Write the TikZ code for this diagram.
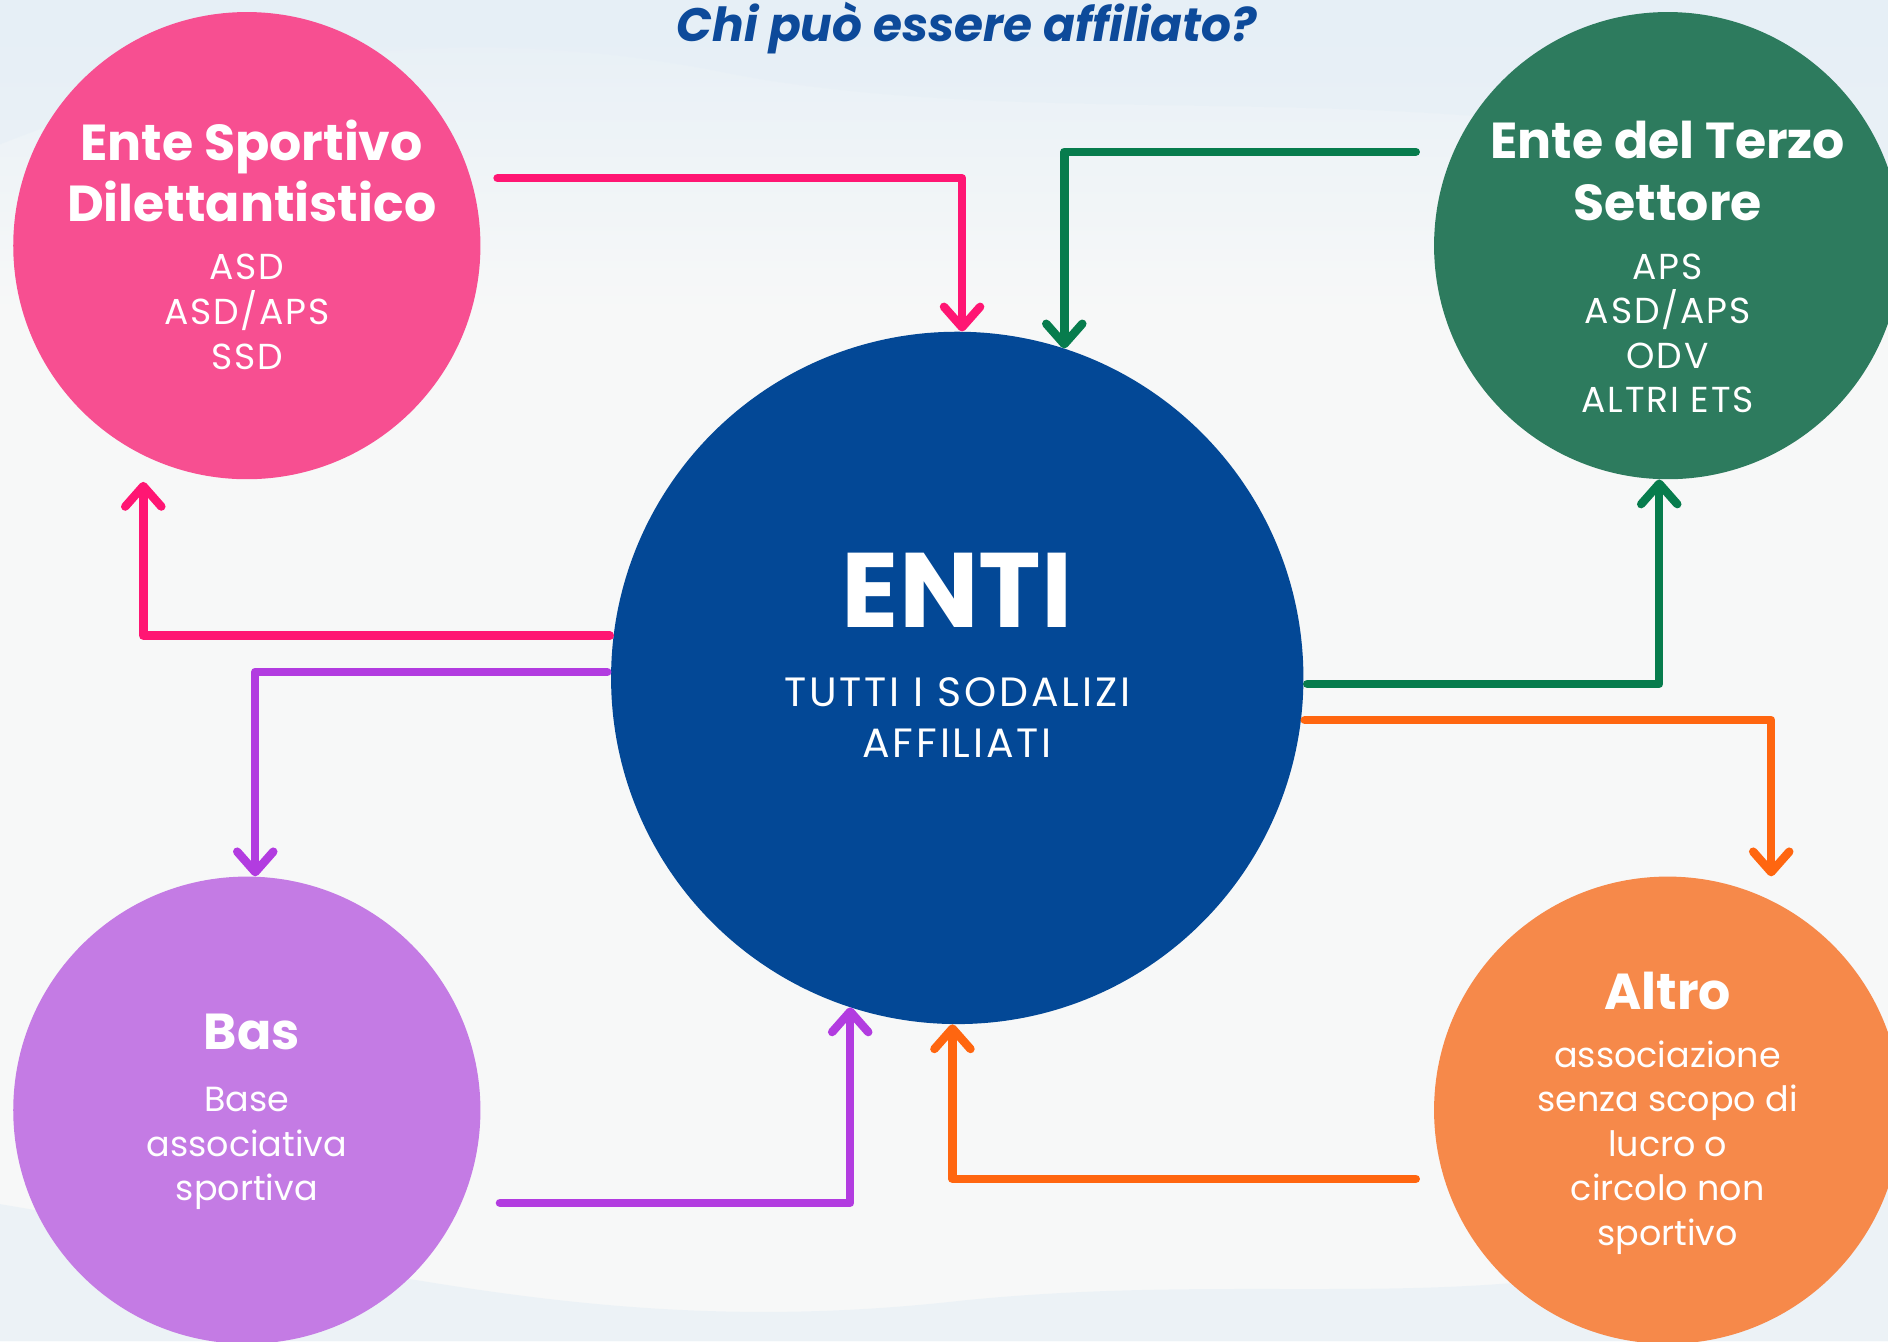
\documentclass[tikz,border=0pt]{standalone}
\usepackage{fontspec}
\setmainfont{Poppins}
\usetikzlibrary{arrows.meta}

\definecolor{bgbase}{HTML}{F7F8F8}
\definecolor{bgblue}{HTML}{E6EFF6}
\definecolor{titleblue}{HTML}{0D4A9A}
\definecolor{entiblue}{HTML}{034896}
\definecolor{esdpink}{HTML}{F74F91}
\definecolor{pinkline}{HTML}{FF1673}
\definecolor{etsgreen}{HTML}{2D7B5E}
\definecolor{greenline}{HTML}{077C4D}
\definecolor{basviolet}{HTML}{C47BE4}
\definecolor{violetline}{HTML}{B23CE0}
\definecolor{altorange}{HTML}{F6894A}
\definecolor{orangeline}{HTML}{FF6610}

\begin{document}
\begin{tikzpicture}[
    x = 1pt,
    y = -1pt,
    line cap = round,
    line join = round,
    conn/.style = {line width = 7pt, -{Straight Barb[length=17pt, width=30pt, round]}},
    head/.style = {text = white, align = center, font = \fontsize{42}{51}\selectfont\bfseries},
    sub/.style = {text = white, align = center, font = \fontsize{29}{37}\selectfont},
    subcaps/.style = {sub, font = \fontsize{30}{37}\selectfont\addfontfeature{LetterSpace=5}},
    ]

    \tikzstyle{bubble}=[
    circle,
    inner sep = 0pt,
    minimum size = 388pt,
    ]

    \useasboundingbox (0,0) rectangle (1568,1114);
    \fill[bgbase] (0,0) rectangle (1568,1114);
    \shade[top color=bgblue, bottom color=bgbase] (0,0) rectangle (1568,260);
    \fill[bgblue, opacity=.5] (0,0) -- (1568,0) -- (1568,180) .. controls (1300,40) and (900,120) .. (600,60) .. controls (350,10) and (150,60) .. (0,120) -- cycle;
    \fill[bgblue, opacity=.6] (0,1114) -- (0,1000) .. controls (300,1050) and (500,1114) .. (800,1080) .. controls (1100,1050) and (1300,1114) .. (1568,980) -- (1568,1114) -- cycle;

    \node[font=\fontsize{39}{44}\selectfont\bfseries\itshape, text=titleblue] (title) at (803,23) {Chi può essere affiliato?};

    \node[bubble, fill=esdpink] (esd) at (205,204) {};
    \node[bubble, fill=etsgreen] (ets) at (1385,204) {};
    \node[bubble, fill=basviolet] (bas) at (205,922) {};
    \node[bubble, fill=altorange] (alt) at (1385,922) {};
    \node[circle, inner sep=0pt, minimum size=575pt, fill=entiblue] (enti) at (795,563) {};

    \node[head] (esdhead) at (209,142) {Ente Sportivo\\Dilettantistico};
    \node[subcaps] (esdsub) at (205,259) {ASD\\ASD/APS\\SSD};
    \node[head] (etshead) at (1385,142) {Ente del Terzo\\Settore};
    \node[subcaps] (etssub) at (1385,277) {APS\\ASD/APS\\ODV\\ALTRI ETS};
    \node[text=white, font=\fontsize{88}{96}\selectfont\bfseries] (entihead) at (795,490) {ENTI};
    \node[text=white, align=center, font=\fontsize{34}{43}\selectfont\addfontfeature{LetterSpace=7}] (entisub) at (795,596) {TUTTI I SODALIZI\\AFFILIATI};
    \node[head] (bashead) at (209,857) {Bas};
    \node[sub] (bassub) at (205,954) {Base\\associativa\\sportiva};
    \node[head] (althead) at (1385,823) {Altro};
    \node[sub] (altsub) at (1385,953) {associazione\\senza scopo di\\lucro o\\circolo non\\sportivo};

    \draw[conn, pinkline] ([shift={(14pt,56pt)}]esd.east) -| ([xshift=4pt]enti.north);
    \draw[conn, pinkline] ([xshift=-3pt]enti.173) -| ([shift={(-86pt,-2pt)}]esd.south);
    \draw[conn, greenline] ([shift={(-15pt,78pt)}]ets.west) -| (enti.72);
    \draw[conn, greenline] ([xshift=3pt]enti.-1) -| ([xshift=-7pt]ets.south);
    \draw[conn, violetline] ([xshift=-3pt]enti.179) -| ([xshift=7pt]bas.north);
    \draw[conn, violetline] ([shift={(16pt,-77pt)}]bas.east) -| (enti.252);
    \draw[conn, orangeline] ([xshift=3pt]enti.-7) -| ([xshift=86pt]alt.north);
    \draw[conn, orangeline] ([shift={(-15pt,-57pt)}]alt.west) -| ([xshift=-4pt]enti.south);
\end{tikzpicture}
\end{document}
